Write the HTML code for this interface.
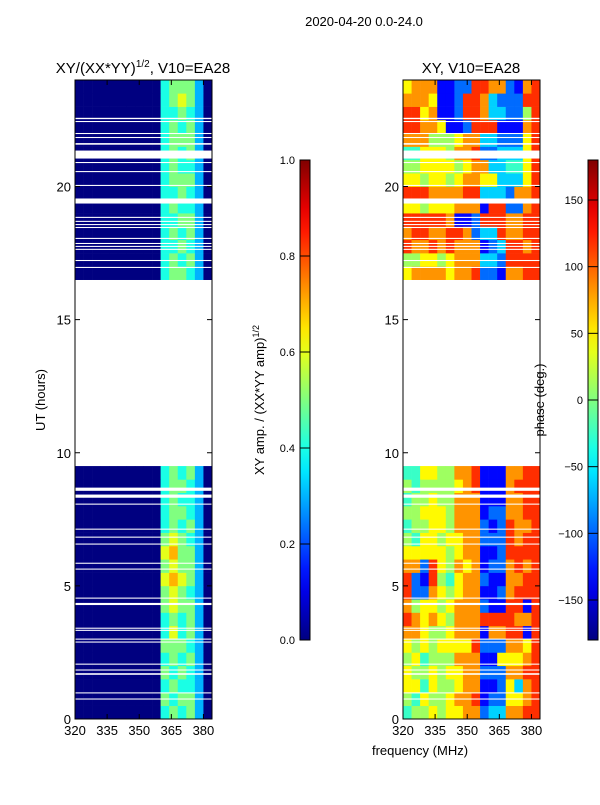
<!DOCTYPE html>
<html><head><meta charset="utf-8"><style>
body{margin:0;background:#fff;}
svg text{font-family:"Liberation Sans","DejaVu Sans",sans-serif;fill:#000;}
</style></head><body>
<svg id="fig" width="600" height="800" xmlns="http://www.w3.org/2000/svg">
<text x="364" y="26" font-size="13" text-anchor="middle">2020-04-20 0.0-24.0</text>
<text x="143" y="73" font-size="15" text-anchor="middle">XY/(XX*YY)<tspan font-size="10" dy="-6">1/2</tspan><tspan dy="6">, V10=EA28</tspan></text>
<text x="471" y="73" font-size="15" text-anchor="middle">XY, V10=EA28</text>
<text x="0" y="0" font-size="13" text-anchor="middle" transform="translate(45,400) rotate(-90)">UT (hours)</text>
<text x="0" y="0" font-size="13" text-anchor="middle" transform="translate(264,400) rotate(-90)">XY amp. / (XX*YY amp)<tspan font-size="9" dy="-5">1/2</tspan></text>
<text x="0" y="0" font-size="13" text-anchor="middle" transform="translate(544,400) rotate(-90)">phase (deg.)</text>
<text x="420" y="755" font-size="13" text-anchor="middle">frequency (MHz)</text>
<g id="g"></g>
</svg>
<script>
const freqStart=320, freqStep=4, nCols=16;
const yTicks=[0,5,10,15,20];
const xTicks=[320,335,350,365,380];
const ampTicks=[0.0,0.2,0.4,0.6,0.8,1.0];
const phaseTicks=[-150,-100,-50,0,50,100,150];
const blockStart=[0,16.5];
const ampBottom=["0000000000454530","0000000000545530","0000000000454430","0000000000545430","0000000000454530",
"0000000000555430","0000000000464530","0000000000454530","0000000000565530","0000000000565430",
"0000000000676530","0000000000565530","0000000000675530","0000000000565430","0000000000454530",
"0000000000455430","0000000000454430","0000000000455430","0000000000454530"];
const ampTop=["0000000000455430","0000000000454530","0000000000445430","0000000000454530","0000000000445530",
"0000000000454430","0000000000445430","0000000000455530","0000000000454430","0000000000454530",
"0000000000455530","0000000000454530","0000000000445430","0000000000456530","0000000000455530"];
const phBottom=["4556566772337788","5465567781226678","6646556771126378","6556566772227788","5645557771166678",
"6565666682227768","7765567771778818","8767657778888778","7566567772118818","8227656771127888",
"8218546772117788","7728657671227878","6666656771128888","5466566772228788","4556657772128778",
"5566657771227788","4556557771117788","5455556781117888","4466557781117788"];
const phTop=["6777767782217788","5566567773328888","8778787771238878","7887788723387788","8888871128887788",
"6656667771882278","8887777883332778","6656656776633368","5566665677334468","4466657782233368",
"7775556773322268","8877611288811178","8867112887332258","7776112887322288","6777112288772178"];
const flagged=[[22.53,22.58],[22.42,22.46],[21.97,22.01],[21.82,21.86],[21.57,21.63],[21.05,21.35],[20.88,20.92],
[20.54,20.58],[20.02,20.06],[19.36,19.55],[18.82,18.86],[18.67,18.71],[18.55,18.59],[18.44,18.48],[18.03,18.07],
[17.84,17.88],[17.73,17.77],[17.62,17.66],[17.2,17.24],[16.94,16.98],
[8.57,8.69],[8.31,8.43],[8.05,8.09],[7.11,7.15],[6.81,6.85],[6.55,6.59],[5.83,5.87],[5.61,5.65],[4.52,4.56],
[4.28,4.36],[3.39,3.43],[3.31,3.35],[2.98,3.02],[2.87,2.91],[2.04,2.08],[1.82,1.86],[1.66,1.72],[0.96,1.0],[0.73,0.77]];
const NS="http://www.w3.org/2000/svg";
const g=document.getElementById('g');
function jet(v){v=Math.max(0,Math.min(1,v));const c=x=>Math.round(255*Math.max(0,Math.min(1,1.5-Math.abs(4*v-x))));return `rgb(${c(3)},${c(2)},${c(1)})`;}
function el(t,a,p){const e=document.createElementNS(NS,t);for(const k in a)e.setAttribute(k,a[k]);(p||g).appendChild(e);return e;}
const Y0=719,Y1=80,yS=h=>Y0-(h/24)*(Y0-Y1);
function panel(x0,name,bottom,top,map){
  const x1=x0+137, xS=f=>x0+(f-320)/64*137;
  const grp=el('g',{});
  
  
  [bottom,top].forEach((rows,bi)=>{
    rows.forEach((s,ri)=>{
      const h0=blockStart[bi]+ri*0.5,h1=h0+0.5;
      for(let c=0;c<nCols;c++){
        const f0=freqStart+c*freqStep;
        const r=el('rect',{x:xS(f0),y:yS(h1),width:xS(f0+freqStep)-xS(f0)+0.3,height:yS(h0)-yS(h1)+0.3,fill:jet(map(+s[c]))},grp);
        
        
      }
    });
  });
  flagged.forEach(fl=>{const r=el('rect',{x:x0,y:yS(fl[1]),width:137,height:Math.max(1,yS(fl[0])-yS(fl[1])),fill:'#fff'},grp);
    
    });
  const fr=el('rect',{x:x0,y:Y1,width:137,height:Y0-Y1,fill:'none',stroke:'#000','stroke-width':1});
  
  
  yTicks.forEach(t=>{const y=yS(t);
    el('line',{x1:x0,x2:x0+5,y1:y,y2:y,stroke:'#000'});el('line',{x1:x1-5,x2:x1,y1:y,y2:y,stroke:'#000'});
    const tx=el('text',{x:x0-4,y:y+5,'font-size':13,'text-anchor':'end'});tx.textContent=t;
    
    });
  xTicks.forEach(t=>{const x=xS(t);
    el('line',{x1:x,x2:x,y1:Y0,y2:Y0-5,stroke:'#000'});el('line',{x1:x,x2:x,y1:Y1,y2:Y1+5,stroke:'#000'});
    const tx=el('text',{x:x,y:Y0+16,'font-size':13,'text-anchor':'middle'});tx.textContent=t;
    
    });
}
panel(75,'amplitude',ampBottom,ampTop,d=>d/10);
panel(403,'phase',phBottom,phTop,d=>(d+0.3)/10);
function cbar(x,name,ticks,lo,hi){
  const defs=el('defs',{});const lg=el('linearGradient',{id:name+'g',x1:0,y1:1,x2:0,y2:0},defs);
  for(let i=0;i<=20;i++)el('stop',{offset:i/20,'stop-color':jet(i/20)},lg);
  const r=el('rect',{x:x,y:160,width:10,height:480,fill:`url(#${name}g)`,stroke:'#000'});
  
  
  ticks.forEach(t=>{const y=640-(t-lo)/(hi-lo)*480;
    el('line',{x1:x,x2:x+10,y1:y,y2:y,stroke:'#000'});
    const tx=el('text',{x:x-5,y:y+4,'font-size':11,'text-anchor':'end'});tx.textContent=(lo===0?t.toFixed(1):String(t).replace('-','\u2212'));
    
    });
}
cbar(300,'amplitude-colorbar',ampTicks,0,1);
cbar(588,'phase-colorbar',phaseTicks,-180,180);
</script>
</body></html>
